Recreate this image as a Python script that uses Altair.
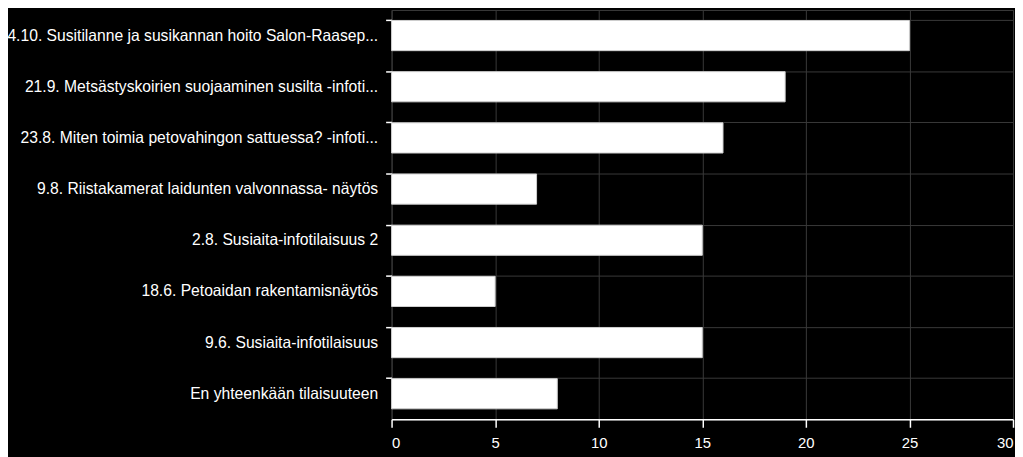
import altair as alt
import pandas as pd

categories = [
    "4.10. Susitilanne ja susikannan hoito Salon-Raasep...",
    "21.9. Metsästyskoirien suojaaminen susilta -infoti...",
    "23.8. Miten toimia petovahingon sattuessa? -infoti...",
    "9.8. Riistakamerat laidunten valvonnassa- näytös",
    "2.8. Susiaita-infotilaisuus 2",
    "18.6. Petoaidan rakentamisnäytös",
    "9.6. Susiaita-infotilaisuus",
    "En yhteenkään tilaisuuteen",
]
values = [25, 19, 16, 7, 15, 5, 15, 8]
x_ticks = [0, 5, 10, 15, 20, 25, 30]

df = pd.DataFrame({"cat": categories, "val": values})

FONT = "Liberation Sans"

chart = alt.Chart(df).mark_bar(
    color="white", stroke="#cfcfcf", strokeWidth=1
).encode(
    x=alt.X("val:Q",
            scale=alt.Scale(domain=[0, 30], nice=False),
            axis=alt.Axis(values=x_ticks, title=None, domainColor="white",
                          domainWidth=1.5, tickColor="white", tickSize=8,
                          tickWidth=1.5, labelColor="white", labelFontSize=15,
                          labelFont=FONT, labelPadding=8, gridColor="#3a3a3a",
                          gridWidth=1)),
    y=alt.Y("cat:N", sort=categories,
            scale=alt.Scale(paddingInner=0.41, paddingOuter=0.205),
            axis=alt.Axis(title=None, domain=False, tickColor="white",
                          tickSize=6, tickWidth=1.5, labelColor="white",
                          labelFontSize=15.8, labelFont=FONT, labelPadding=8,
                          labelLimit=420, grid=True, gridColor="#3a3a3a",
                          bandPosition=0)),
).properties(
    width=627, height=413,
    background="black",
    autosize=alt.AutoSizeParams(type="none"),
    padding={"left": 387, "top": 0, "right": 2, "bottom": 36},
).configure_view(stroke="#3a3a3a")

chart.save("out.html", embed_options={"renderer": "svg", "actions": False})
